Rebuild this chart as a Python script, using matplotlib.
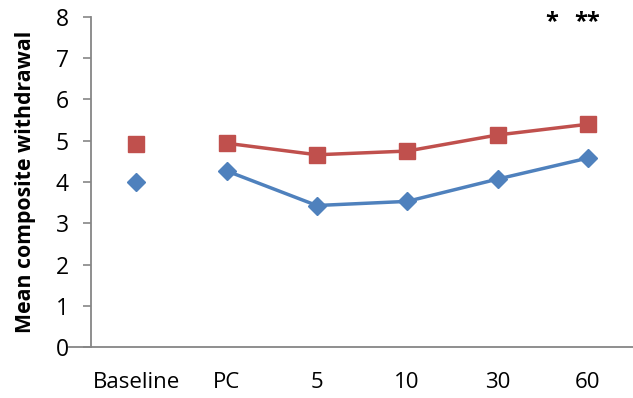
import numpy as np
import matplotlib.pyplot as plt

plt.rcParams['font.family'] = ['Open Sans', 'DejaVu Sans']

categories = ['Baseline', 'PC', '5', '10', '30', '60']
blue_vals = [4.00, 4.27, 3.43, 3.53, 4.07, 4.58]
red_vals = [4.91, 4.94, 4.66, 4.75, 5.14, 5.40]
stars = [(4.60, '*'), (4.99, '**')]

blue = '#4F81BD'
red = '#C0504D'
grey = '#868686'

fig = plt.figure(figsize=(6.33, 3.98), dpi=100)
ax = fig.add_axes([91/633, 51/398, 1 - 91/633, 330/398])

x = np.arange(len(categories))
# baseline unconnected, rest joined
ax.plot(x[:1], blue_vals[:1], ls='', marker='D', ms=9.5, color=blue)
ax.plot(x[1:], blue_vals[1:], ls='-', lw=2.5, marker='D', ms=9.5, color=blue)
ax.plot(x[:1], red_vals[:1], ls='', marker='s', ms=11, color=red)
ax.plot(x[1:], red_vals[1:], ls='-', lw=2.5, marker='s', ms=11, color=red)

for xs, s in stars:
    ax.text(xs, 7.88, s, ha='center', va='center', fontsize=17, fontweight='bold')

ax.set_xlim(-0.5, 5.5)
ax.set_ylim(0, 8)
ax.set_yticks(range(0, 9))
ax.set_xticks(x)
ax.set_xticklabels(categories)
ax.tick_params(axis='x', length=0, pad=18, labelsize=16)
ax.tick_params(axis='y', length=6, width=1.2, color=grey, pad=10, labelsize=16.5)
for sp in ['top', 'right']:
    ax.spines[sp].set_visible(False)
for sp in ['left', 'bottom']:
    ax.spines[sp].set_color(grey)
    ax.spines[sp].set_linewidth(1.3)
ax.plot([-22/542, 0], [0, 0], transform=ax.transAxes, color=grey, lw=1.3, clip_on=False)

ax.set_ylabel('Mean composite withdrawal', fontsize=15.3, fontweight='bold', labelpad=14)

fig.savefig('out.png', dpi=100)
